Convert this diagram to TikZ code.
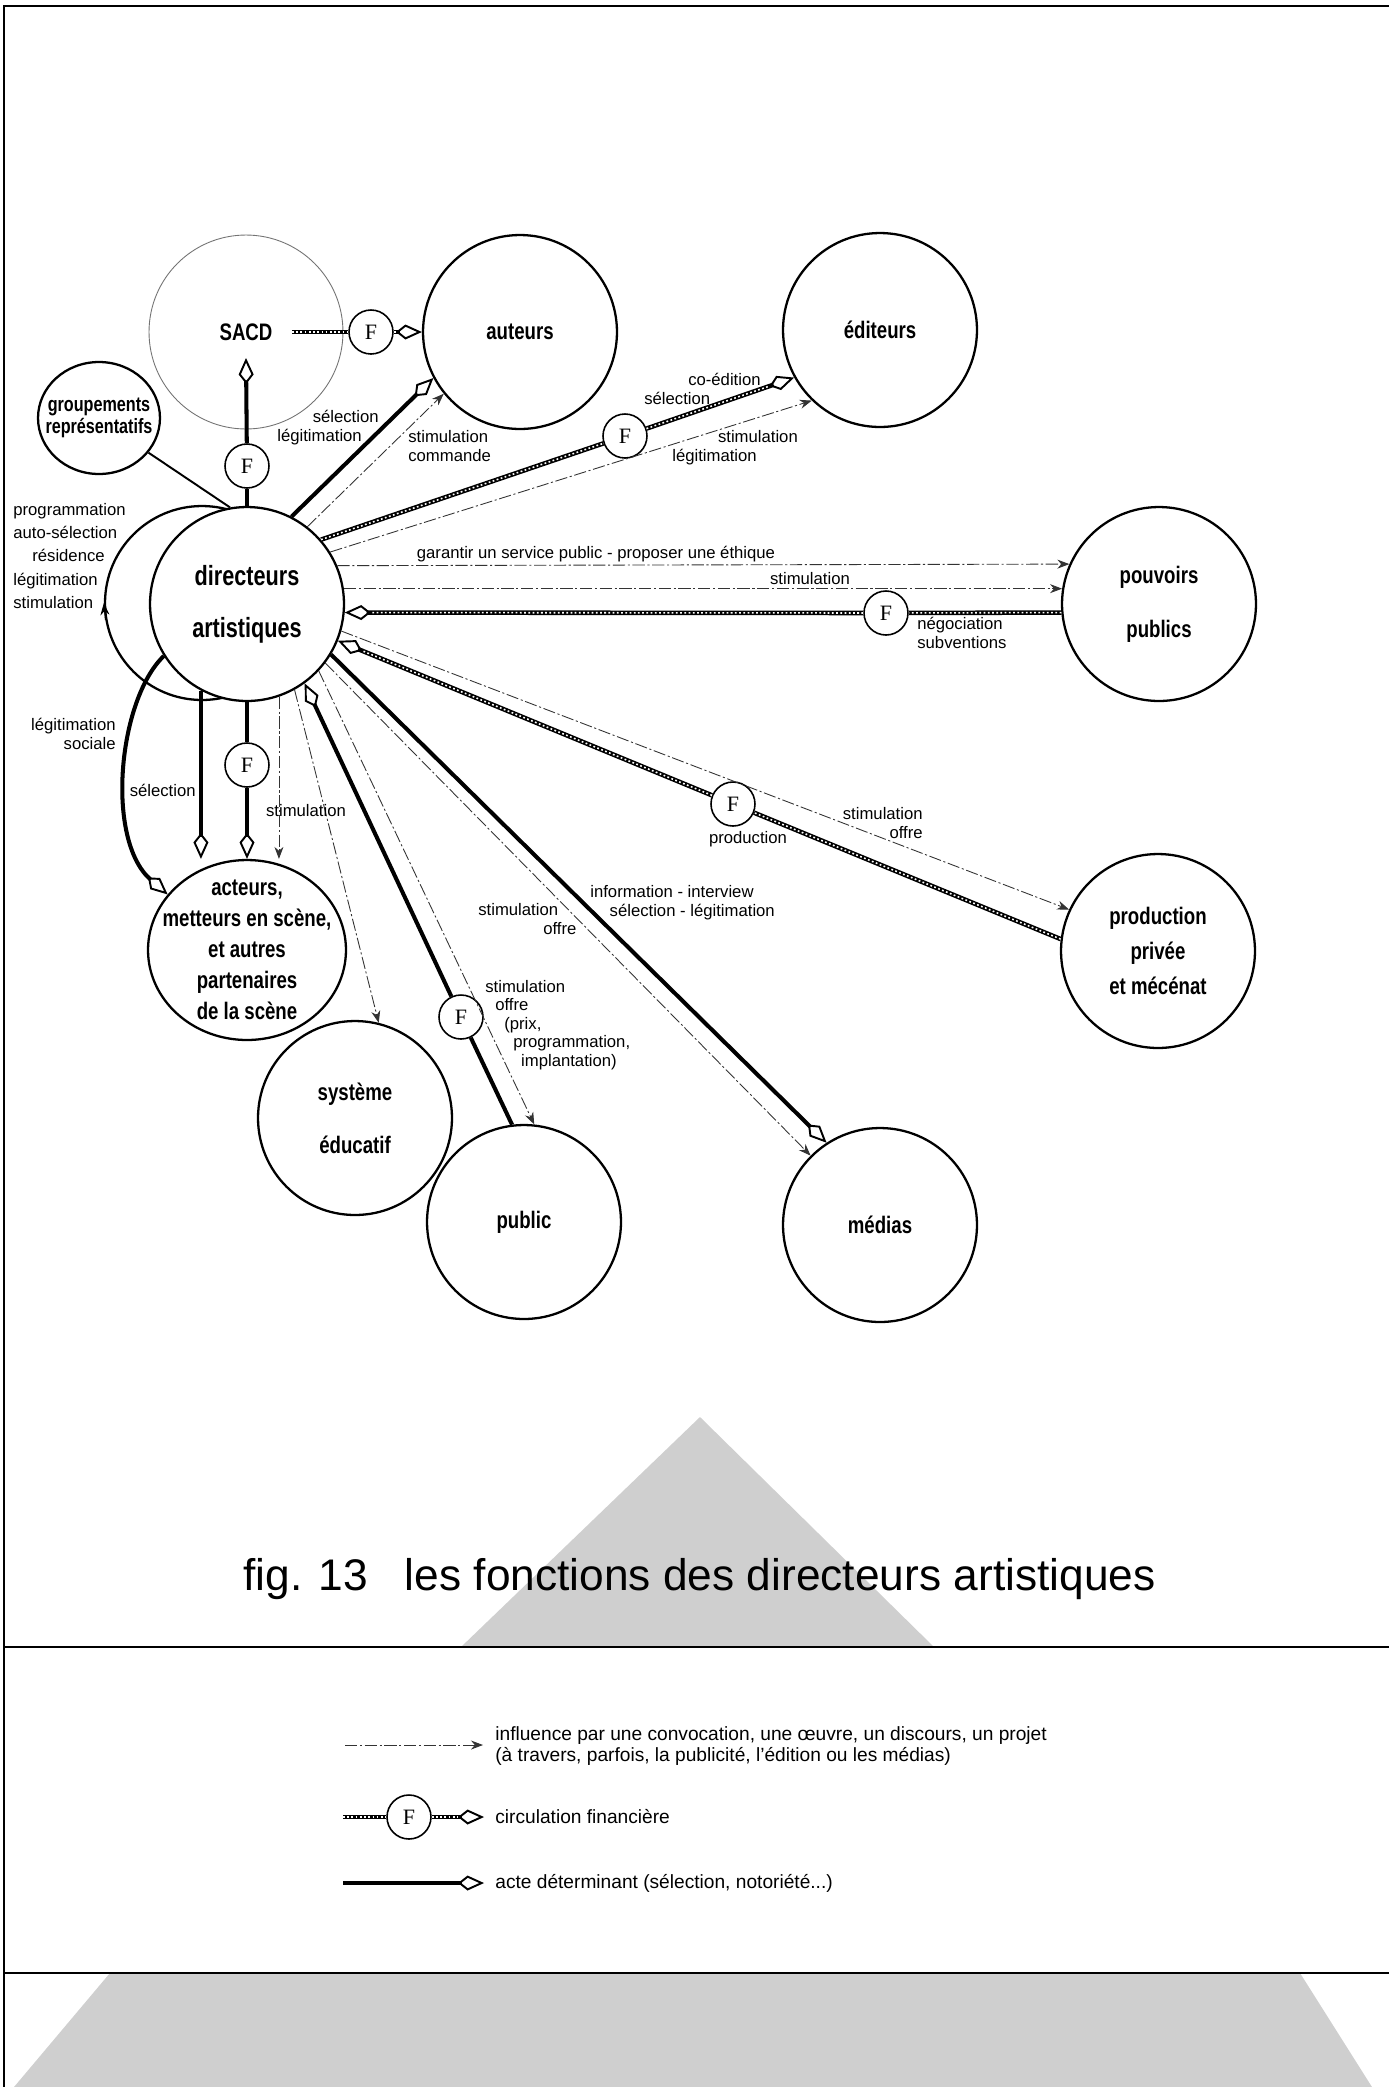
\documentclass[tikz,border=0pt]{standalone}
\usepackage{fontspec}
\setmainfont{Liberation Sans}
\newfontfamily\nodefont[FakeStretch=0.78]{Liberation Sans}
\newfontfamily\ffont{Liberation Serif}
\usetikzlibrary{arrows.meta, shapes.geometric, calc}
\tikzset{
	>={Stealth[length=2.4mm, width=1.8mm]},
	% cercle d'un acteur
	cercle/.style={draw, circle, line width=1.3pt, fill=white, minimum size=3.88cm,
	               inner sep=0pt, align=center, font=\nodefont\bfseries\fontsize{13.6}{26}\selectfont},
	% petit cercle F (flux financier)
	fcercle/.style={draw, circle, line width=0.9pt, fill=white, minimum size=0.88cm,
	                inner sep=0pt, font=\ffont\fontsize{12.5}{12.5}\selectfont},
	% influence (convocation, oeuvre, discours...)
	influence/.style={->, line width=0.5pt, black!80, dash pattern=on 7pt off 1.5pt on 1.2pt off 1.5pt},
	% circulation financiere
	finance/.style={line width=2.6pt, postaction={draw, -, white, line width=0.9pt,
	                dash pattern=on 1pt off 1.4pt, shorten >=#1}},
	finance/.default=0pt,
	% acte determinant
	acte/.style={line width=2.3pt},
	% pointe en losange
	pointe/.style={-{Kite[open, length=5.2mm, width=3mm, inset=1.9mm, line width=1.1pt]}},
	% etiquette d'une fleche
	etiq/.style={inner sep=0pt, font=\fontsize{9.5}{10.8}\selectfont},
	% trame grise, cadre
	trame/.style={fill=black!19},
	cadre/.style={line width=1.2pt},
}

\begin{document}
\begin{tikzpicture}[x=0.02cm, y=-0.02cm]
    \useasboundingbox (0,0) rectangle (1389,2087);
    % trames grises
    \fill[trame] (700,1417) -- (934,1647) -- (461,1647) -- cycle;
    \fill[trame] (110,1973) -- (1300,1973) -- (1372,2087) -- (14,2087) -- cycle;
    % cadre
    \draw[cadre] (1389,6) -- (4,6) -- (4,2087);
    \draw[cadre] (4,1647) -- (1389,1647);
    \draw[cadre] (4,1973) -- (1389,1973);
    % acteurs
    \node[cercle, draw=black!55, line width=0.5pt] (sacd) at (246,332) {SACD};
    \node[cercle] (aut) at (520,332) {auteurs};
    \node[cercle] (edi) at (880,330) {éditeurs};
    \node[cercle, ellipse, minimum width=2.44cm, minimum height=2.24cm, inner sep=-0.3cm,
          font=\nodefont\bfseries\fontsize{11.8}{12.5}\selectfont] (grp) at (99,418) {groupements\\représentatifs};
    \node[cercle] (boucle) at (202,603) {};
    \node[cercle, font=\nodefont\bfseries\fontsize{15.8}{29.5}\selectfont] (dir) at (247,604) {directeurs\\artistiques};
    \node[cercle, font=\nodefont\bfseries\fontsize{13.6}{30.6}\selectfont] (pouv) at (1159,604) {pouvoirs\\publics};
    \node[cercle, font=\nodefont\bfseries\fontsize{13.6}{20}\selectfont] (prod) at (1158,951) {production\\privée\\et mécénat};
    \node[cercle, ellipse, minimum width=3.96cm, minimum height=3.6cm, inner sep=-0.6cm,
          font=\nodefont\bfseries\fontsize{13.6}{17.6}\selectfont] (act) at (247,950) {acteurs,\\metteurs en scène,\\et autres\\partenaires\\de la scène};
    \node[cercle, font=\nodefont\bfseries\fontsize{13.6}{30}\selectfont] (sys) at (355,1118) {système\\éducatif};
    \node[cercle] (pub) at (524,1222) {public};
    \node[cercle] (med) at (880,1225) {médias};
    % cercles F
    \node[fcercle] (fsac) at (371,332) {F};
    \node[fcercle] (fsacd) at (247,466) {F};
    \node[fcercle] (fedi) at (625,436) {F};
    \node[fcercle] (fpouv) at (886,613) {F};
    \node[fcercle] (fact) at (247,765) {F};
    \node[fcercle] (fprod) at (733,804) {F};
    \node[fcercle] (fpub) at (461,1017) {F};
    % SACD, auteurs, editeurs
    \coordinate (sacdout) at ($(sacd.center)+(46,0)$);
    \coordinate (sacdin) at ($(sacd.center)+(0,26)$);
    \draw[finance] (sacdout) -- (fsac);
    \draw[finance=5.2mm, pointe] (fsac) -- (aut);
    \draw[acte] (dir) -- (fsacd);
    \draw[acte, pointe] (fsacd) -- (sacdin);
    \draw[line width=1.1pt] (grp.-35) -- (dir.100);
    \draw[acte, pointe] (dir.63) -- (aut.208);
    \draw[influence] (dir.52) -- (aut.219);
    \draw[finance] (dir.41) -- (fedi);
    \draw[finance=5.2mm, pointe] (fedi) -- (edi.209);
    \draw[influence] (dir.32) -- (edi.226);
    % pouvoirs publics, production
    \draw[influence] (dir.23) -- (pouv.156);
    \draw[influence] (dir.9) -- (pouv.171);
    \draw[finance] (pouv.185) -- (fpouv);
    \draw[finance=5.2mm, pointe] (fpouv) -- (dir.-5);
    \draw[finance] (prod.173) -- (fprod);
    \draw[finance=5.2mm, pointe] (fprod) -- (dir.-22);
    \draw[influence] (dir.-16) -- (prod.155);
    % medias, public, systeme educatif
    \draw[acte, pointe] (dir.-31) -- (med.123);
    \draw[influence] (dir.-37) -- (med.135);
    \draw[influence] (dir.-43) -- (pub.84);
    \draw[acte] (pub.97) -- (fpub);
    \draw[acte, pointe] (fpub) -- (dir.-54);
    \draw[influence] (dir.-61) -- (sys.76);
    % acteurs de la scene
    \draw[influence] (dir.-71) -- (dir.-71 |- act.north);
    \draw[acte] (dir) -- (fact);
    \draw[acte, pointe] (fact) -- (act);
    \draw[acte, pointe] (dir.242) -- (dir.242 |- act.north);
    \draw[acte, pointe] (dir.212) .. controls (118,700) and (105,840) .. (act.145);
    \draw[->, line width=0.5pt] (boucle.190) -- (boucle.west);
    % etiquettes
    \node[etiq, anchor=east, align=right] (l1) at (379,428) {sélection\\légitimation\hspace*{9.6pt}};
    \node[etiq, anchor=west, align=left] (l2) at (408,446) {stimulation\\commande};
    \node[etiq, anchor=west, align=left] (l3) at (644,389) {\hspace*{25pt}co-édition\\sélection};
    \node[etiq, anchor=west, align=left] (l4) at (672,448) {\hspace*{26pt}stimulation\\légitimation};
    \node[etiq] (l5) at (596,554) {garantir un service public - proposer une éthique};
    \node[etiq] (l6) at (810,579) {stimulation};
    \node[etiq, anchor=west, align=left] (l7) at (917,633) {négociation\\subventions};
    \node[etiq, anchor=east, align=right] (l8) at (923,823) {stimulation\\offre};
    \node[etiq] (l9) at (748,839) {production};
    \node[etiq, anchor=west, align=left] (l10) at (590,903) {information - interview\\\hspace*{11pt}sélection - légitimation};
    \node[etiq, anchor=west, align=left] (l11) at (478,919) {stimulation\\\hspace*{37pt}offre};
    \node[etiq, anchor=west, align=left, font=\fontsize{9.5}{10.5}\selectfont] (l12) at (485,1025)
        {stimulation\\\hspace*{5.7pt}offre\\\hspace*{10.8pt}(prix,\\\hspace*{15.9pt}programmation,\\\hspace*{20.4pt}implantation)};
    \node[etiq] (l13) at (306,811) {stimulation};
    \node[etiq, anchor=east] (l14) at (196,790) {sélection};
    \node[etiq, anchor=east, align=right] (l15) at (116,734) {légitimation\\sociale};
    \node[etiq, anchor=west, align=left, font=\fontsize{9.5}{13.3}\selectfont] (l16) at (13,556)
        {programmation\\auto-sélection\\\hspace*{10.8pt}résidence\\légitimation\\stimulation};
    % titre
    \node[anchor=base west, inner sep=0pt, font=\fontsize{25.2}{30}\selectfont] (titre) at (243,1590)
        {fig. 13\hspace{21pt}les fonctions des directeurs artistiques};
    % legende
    \coordinate (lgia) at (345,1745);
    \coordinate (lgib) at (483,1745);
    \draw[influence] (lgia) -- (lgib);
    \node[etiq, anchor=west, align=left, font=\fontsize{10.9}{12.4}\selectfont] (lgit) at (495,1746)
        {influence par une convocation, une œuvre, un discours, un projet\\(à travers, parfois, la publicité, l'édition ou les médias)};
    \node[fcercle] (lgf) at (409,1817) {F};
    \coordinate (lgfa) at (343,1817);
    \coordinate (lgfb) at (484,1817);
    \draw[finance] (lgfa) -- (lgf);
    \draw[finance=5.2mm, pointe] (lgf) -- (lgfb);
    \node[etiq, anchor=west, font=\fontsize{10.9}{12.4}\selectfont] (lgft) at (495,1817) {circulation financière};
    \coordinate (lgaa) at (343,1883);
    \coordinate (lgab) at (484,1883);
    \draw[acte, pointe] (lgaa) -- (lgab);
    \node[etiq, anchor=west, font=\fontsize{10.9}{12.4}\selectfont] (lgat) at (495,1883) {acte déterminant (sélection, notoriété...)};
\end{tikzpicture}
\end{document}
